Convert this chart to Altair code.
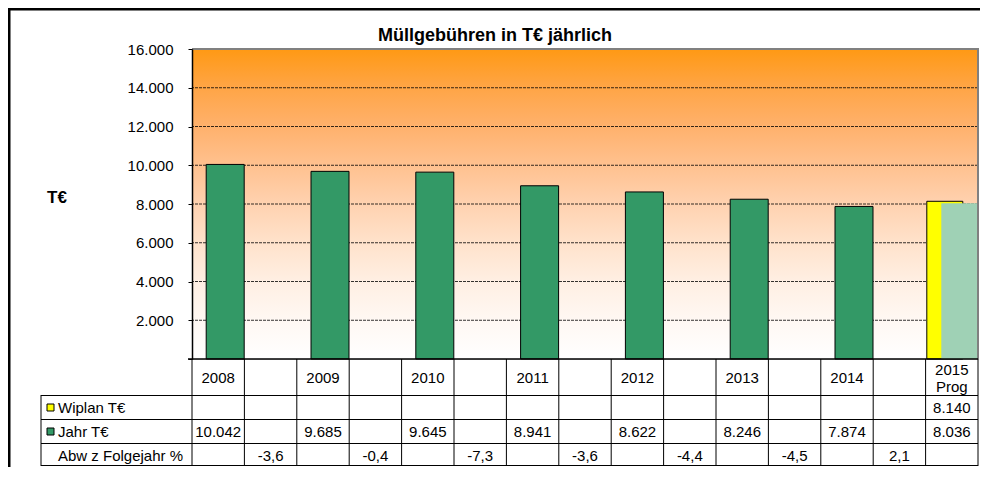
import altair as alt
import pandas as pd

# ---- data ----
years = ["2008", "2009", "2010", "2011", "2012", "2013", "2014", "2015\nProg"]
jahr_te = [10042, 9685, 9645, 8941, 8622, 8246, 7874, 8036]
wiplan_te = [None, None, None, None, None, None, None, 8140]
abw_pct = [-3.6, -0.4, -7.3, -3.6, -4.4, -4.5, 2.1]
y_ticks = [0, 2000, 4000, 6000, 8000, 10000, 12000, 14000, 16000]
grid_vals = [2000, 4000, 6000, 8000, 10000, 12000, 14000]
row_labels = ["Wiplan T€", "Jahr T€", "Abw z Folgejahr %"]
title_text = "Müllgebühren in T€ jährlich"
y_title = "T€"

# ---- layout constants ----
W, H = 786, 310
FONT = "Liberation Sans"
R1, R2, R3, TB = H + 36, H + 60, H + 84, H + 107   # table row boundaries


def de_int(v):
    return f"{v:,}".replace(",", ".")


def de_dec(v):
    return f"{v:.1f}".replace(".", ",")


# build 15 table columns: year, gap, year, gap, ...
rows = []
for i in range(15):
    cat = f"c{i:02d}"
    if i % 2 == 0:
        k = i // 2
        rows.append(dict(cat=cat, header=years[k], kind="year",
                         prog=(k == len(years) - 1),
                         jahr=jahr_te[k], jahr_txt=de_int(jahr_te[k]),
                         wiplan=wiplan_te[k],
                         wiplan_txt=de_int(wiplan_te[k]) if wiplan_te[k] else "",
                         abw_txt=""))
    else:
        k = (i - 1) // 2
        rows.append(dict(cat=cat, header="", kind="gap", prog=False,
                         jahr=None, jahr_txt="", wiplan=None, wiplan_txt="",
                         abw_txt=de_dec(abw_pct[k])))
df = pd.DataFrame(rows)
cats = list(df["cat"])
df_years = df[(df.kind == "year") & (~df.prog)]
df_prog = df[df.prog]
df_head = df[~df.prog]
one = pd.DataFrame({"a": [0]})
grid_df = pd.DataFrame({"v": grid_vals})
labels_df = pd.DataFrame({"label": row_labels,
                          "y": [(R1 + R2) / 2, (R2 + R3) / 2, (R3 + TB) / 2 + 0.5]})

xscale = alt.Scale(domain=cats, paddingInner=0, paddingOuter=0)
yscale = alt.Scale(domain=[0, 16000], nice=False, zero=True)
yaxis = alt.Axis(values=y_ticks, title=None, grid=False,
                 labelExpr="datum.value == 0 ? '' : replace(format(datum.value, ',d'), ',', '.')",
                 domainColor="black", domainWidth=1.5, tickColor="black",
                 tickSize=4, labelPadding=15, labelFont=FONT, labelFontSize=15,
                 labelColor="black", zindex=2)


def X(**kw):
    return alt.X("cat:N", scale=xscale, axis=None, **kw)


def Y(field):
    return alt.Y(field, type="quantitative", scale=yscale, axis=yaxis)


gradient = alt.LinearGradient(
    gradient="linear", x1=0, y1=0, x2=0, y2=1,
    stops=[
        alt.GradientStop(offset=0.0, color="#FF9914"),
        alt.GradientStop(offset=0.125, color="#FFA546"),
        alt.GradientStop(offset=0.25, color="#FFB16C"),
        alt.GradientStop(offset=0.375, color="#FFC18F"),
        alt.GradientStop(offset=0.5, color="#FFD2B0"),
        alt.GradientStop(offset=0.625, color="#FFE2CB"),
        alt.GradientStop(offset=0.75, color="#FFEFE3"),
        alt.GradientStop(offset=0.875, color="#FFF8F3"),
        alt.GradientStop(offset=1.0, color="#FFFFFF"),
    ])

bg = alt.Chart(one).mark_rect(fill=gradient).encode(
    x=alt.value(0), x2=alt.value(W), y=alt.value(0), y2=alt.value(H))

grid = alt.Chart(grid_df).mark_rule(color="black", strokeDash=[3, 1],
                                    strokeWidth=0.8).encode(y=Y("v"))

wiplan_bar = alt.Chart(df_prog).mark_bar(
    color="#FFFF00", stroke="black", strokeWidth=1, width=36, xOffset=-7
).encode(x=X(), y=Y("wiplan"))

jahr_bar = alt.Chart(df_years).mark_bar(
    color="#339966", stroke="black", strokeWidth=1, width=38, xOffset=7
).encode(x=X(), y=Y("jahr"))

prog_bar = alt.Chart(df_prog).mark_bar(
    color="#9FD1B5", width=36, xOffset=7.5
).encode(x=X(), y=Y("jahr"))

# plot frame
top_border = alt.Chart(one).mark_rule(color="#808080", strokeWidth=2).encode(
    x=alt.value(0), x2=alt.value(W + 1), y=alt.value(0))
right_border = alt.Chart(one).mark_rule(color="#808080", strokeWidth=2).encode(
    x=alt.value(W), y=alt.value(0), y2=alt.value(H))
bottom_axis = alt.Chart(one).mark_rule(color="black", strokeWidth=1.5).encode(
    x=alt.value(-4), x2=alt.value(W), y=alt.value(H))

# outer chart frame (left and top visible)
frame_top = alt.Chart(one).mark_rule(color="black", strokeWidth=3).encode(
    x=alt.value(-184), x2=alt.value(W + 2), y=alt.value(-40))
frame_left = alt.Chart(one).mark_rule(color="black", strokeWidth=3).encode(
    x=alt.value(-183), y=alt.value(-41), y2=alt.value(TB + 1))

# title and y title
title = alt.Chart(one).mark_text(
    text=title_text, font=FONT, fontSize=18, fontWeight="bold", color="black",
    align="center", baseline="middle").encode(x=alt.value(303), y=alt.value(-13))
ytitle = alt.Chart(one).mark_text(
    text=y_title, font=FONT, fontSize=17, fontWeight="bold", color="black",
    align="center", baseline="middle").encode(x=alt.value(-135), y=alt.value(149))

# data table
vlines = alt.Chart(df).mark_rule(color="black", strokeWidth=1).encode(
    x=X(bandPosition=0), y=alt.value(H), y2=alt.value(TB))
vlast = alt.Chart(df.tail(1)).mark_rule(color="black", strokeWidth=1).encode(
    x=X(bandPosition=1), y=alt.value(H), y2=alt.value(TB))
vlabel = alt.Chart(one).mark_rule(color="black", strokeWidth=1).encode(
    x=alt.value(-151), y=alt.value(R1), y2=alt.value(TB))
hlines = alt.Chart(pd.DataFrame({"y": [R1 + 0.5, R2 + 0.5, R3 + 0.5, TB - 0.5]})).mark_rule(
    color="black", strokeWidth=1).encode(
    x=alt.value(-151), x2=alt.value(W), y=alt.Y("y:Q", scale=None))

txt_kw = dict(font=FONT, fontSize=15, color="black", align="center",
              baseline="middle")
header_txt = alt.Chart(df_head).mark_text(**txt_kw).encode(
    x=X(), y=alt.value((H + R1) / 2 + 1), text="header:N")
header_prog = alt.Chart(df_prog).mark_text(lineBreak="\n", lineHeight=17, **txt_kw).encode(
    x=X(), y=alt.value((H + R1) / 2 - 7), text="header:N")
wiplan_txt = alt.Chart(df).mark_text(**txt_kw).encode(
    x=X(), y=alt.value((R1 + R2) / 2 + 1), text="wiplan_txt:N")
jahr_txt = alt.Chart(df).mark_text(**txt_kw).encode(
    x=X(), y=alt.value((R2 + R3) / 2 + 1), text="jahr_txt:N")
abw_txt = alt.Chart(df).mark_text(**txt_kw).encode(
    x=X(), y=alt.value((R3 + TB) / 2 + 1), text="abw_txt:N")

label_txt = alt.Chart(labels_df).mark_text(
    font=FONT, fontSize=15, color="black", align="left", baseline="middle", dy=1
).encode(x=alt.value(-134), y=alt.Y("y:Q", scale=None), text="label:N")

sq_df = pd.DataFrame({"y": [(R1 + R2) / 2 - 3, (R2 + R3) / 2 - 3],
                      "y2": [(R1 + R2) / 2 + 4, (R2 + R3) / 2 + 4],
                      "c": ["#FFFF00", "#339966"]})
squares = alt.Chart(sq_df).mark_rect(stroke="black", strokeWidth=1).encode(
    x=alt.value(-145), x2=alt.value(-138),
    y=alt.Y("y:Q", scale=None), y2="y2:Q",
    fill=alt.Fill("c:N", scale=None))

chart = alt.layer(
    bg, grid, wiplan_bar, jahr_bar, prog_bar,
    top_border, right_border, bottom_axis,
    vlines, vlast, vlabel, hlines,
    header_txt, header_prog, wiplan_txt, jahr_txt, abw_txt, label_txt, squares,
    title, ytitle, frame_top, frame_left,
).properties(
    width=W, height=H,
    padding={"left": 184, "top": 41, "right": 2, "bottom": TB - H + 2},
    autosize=alt.AutoSizeParams(type="none"),
).configure_view(stroke=None).configure(background="white")

chart.save("out.html", embed_options={"renderer": "svg", "actions": False})
